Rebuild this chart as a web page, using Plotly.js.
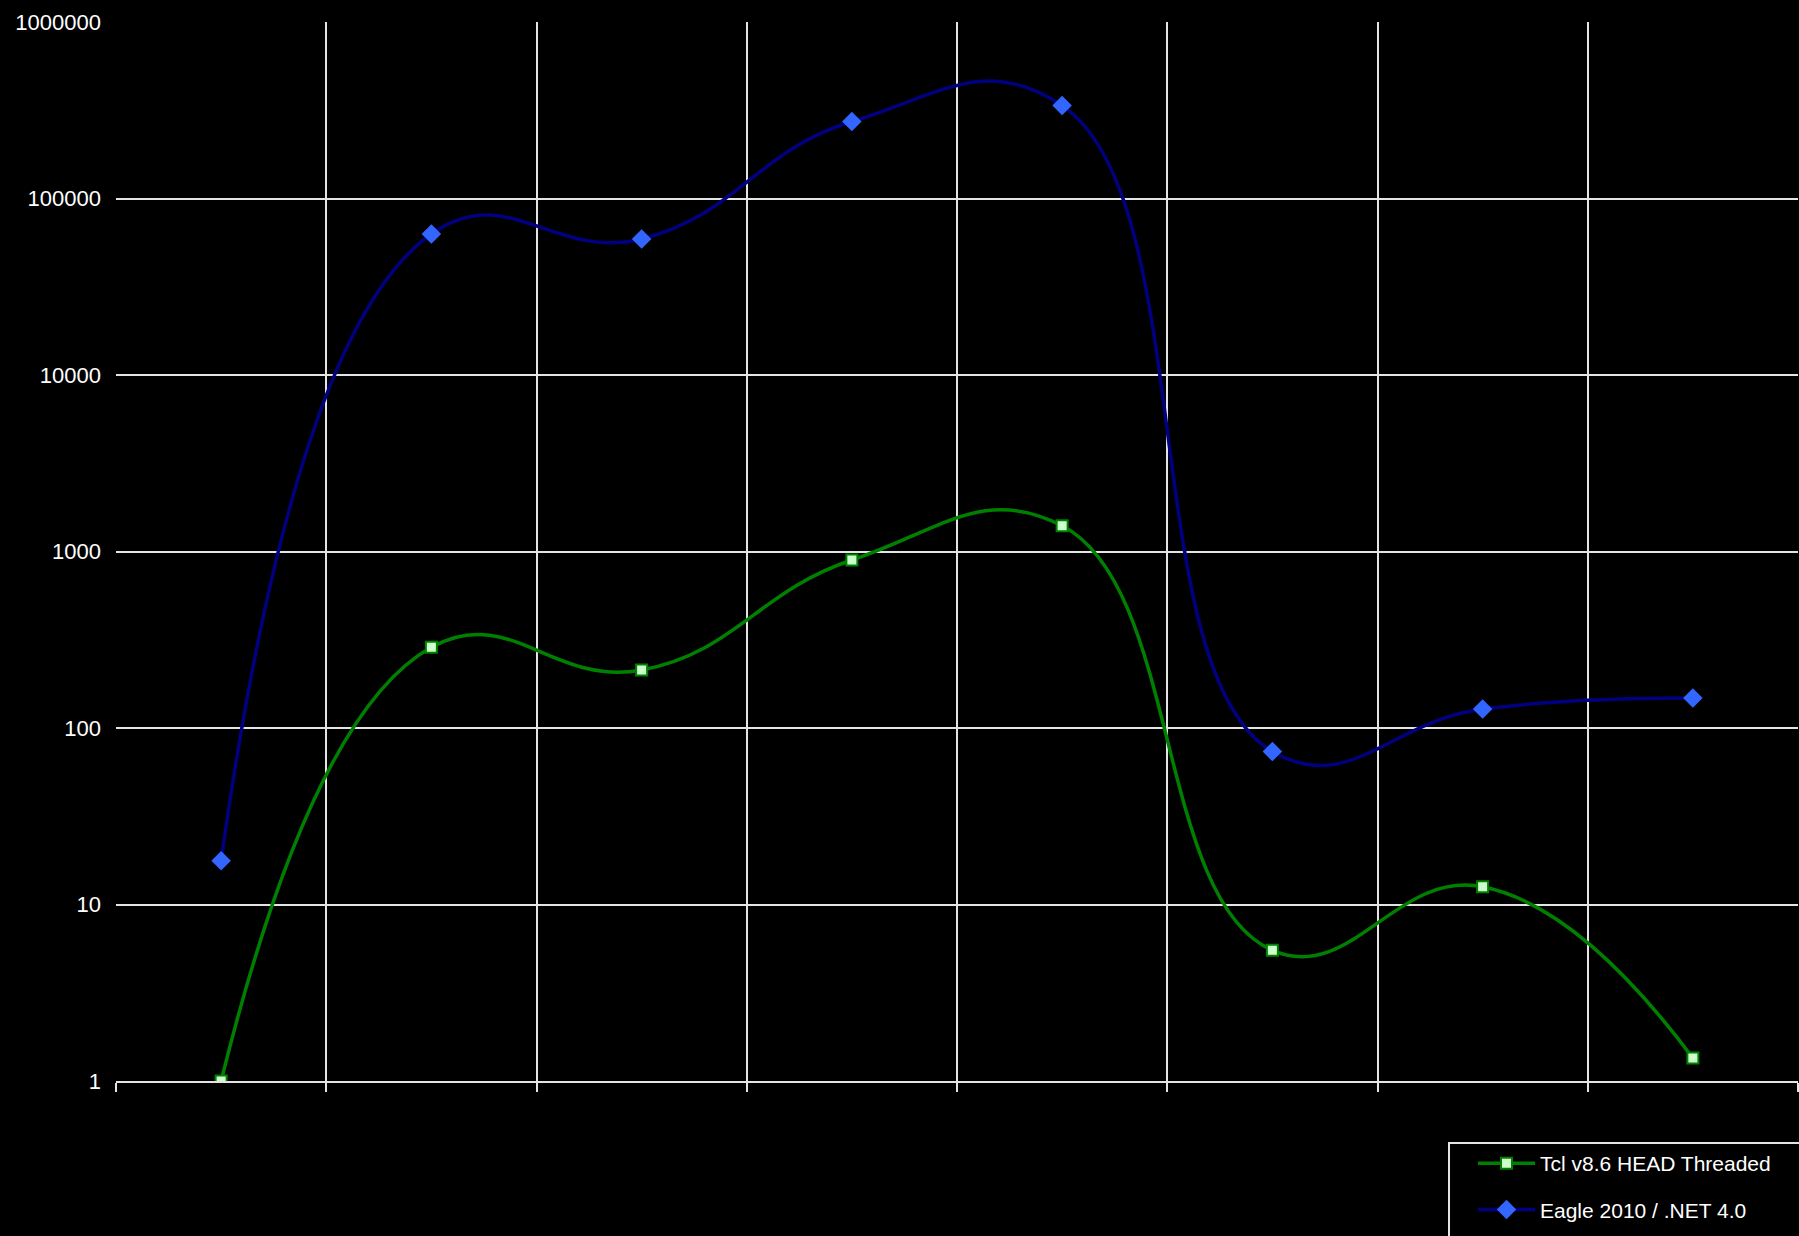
<!DOCTYPE html>
<html>
<head>
<meta charset="utf-8">
<script src="https://cdn.plot.ly/plotly-3.0.1.min.js"></script>
<style>html,body{margin:0;padding:0;background:#000;}</style>
</head>
<body>
<div id="chart" style="width:1799px;height:1236px;"></div>
<script>
// Test positions (8 unlabeled categories)
const testIndex = [1, 2, 3, 4, 5, 6, 7, 8];
const categoryBoundaries = [0.5, 1.5, 2.5, 3.5, 4.5, 5.5, 6.5, 7.5, 8.5];
const boundaryLabels = ['', '', '', '', '', '', '', '', ''];

// Series values (log scale)
const tclNames = 'Tcl v8.6 HEAD Threaded';
const tclValues = [1, 287, 213, 895, 1400, 5.5, 12.6, 1.35];
const eagleNames = 'Eagle 2010 / .NET 4.0';
const eagleValues = [17.7, 63000, 59000, 273000, 336000, 73.5, 128, 148];

// Y tick labels
const yTickValues = [1, 10, 100, 1000, 10000, 100000, 1000000];
const yTickLabels = ['1', '10', '100', '1000', '10000', '100000', '1000000'];

const FONT = 'Liberation Sans, Arial, sans-serif';
const GRID = '#e4e4e4';

const traces = [
  {
    x: testIndex, y: tclValues, name: tclNames, type: 'scatter', mode: 'lines+markers',
    legendgroup: 'tcl',
    line: {color: '#008000', width: 3.5, shape: 'spline', smoothing: 1.3},
    marker: {symbol: 'square', size: 11, color: '#ccffcc', line: {color: '#008000', width: 2}}
  },
  {
    x: testIndex, y: eagleValues, name: eagleNames, type: 'scatter', mode: 'lines+markers',
    legendgroup: 'eagle',
    line: {color: '#000080', width: 3.5, shape: 'spline', smoothing: 1.3},
    marker: {symbol: 'diamond', size: 15, color: '#3366ff', line: {width: 0}}
  }
];

const plotLeft = 116, plotRight = 1798, plotTop = 22, plotBottom = 1081;
const pw = plotRight - plotLeft, ph = plotBottom - plotTop;
function px2x(p) { return (p - plotLeft) / pw; }
function px2y(p) { return (plotBottom - p) / ph; }

const layout = {
  width: 1799, height: 1236,
  paper_bgcolor: '#000', plot_bgcolor: '#000',
  margin: {l: plotLeft, r: 1799 - plotRight, t: plotTop, b: 1236 - plotBottom, pad: 0},
  showlegend: true,
  hovermode: false,
  font: {family: FONT, color: '#ffffff', size: 21},
  xaxis: {
    range: [0.5, 8.5], tickmode: 'array', tickvals: categoryBoundaries, ticktext: boundaryLabels,
    showgrid: true, gridcolor: GRID, gridwidth: 2,
    ticks: 'outside', ticklen: 9, tickwidth: 2, tickcolor: GRID,
    showline: true, linecolor: GRID, linewidth: 2, zeroline: false, fixedrange: true
  },
  yaxis: {
    type: 'log', range: [0, 6], tickmode: 'array', tickvals: yTickValues, ticktext: yTickLabels,
    showgrid: true, gridcolor: GRID, gridwidth: 2, ticks: '', showline: false, zeroline: false,
    tickfont: {family: FONT, size: 22, color: '#ffffff'}, ticklabelstandoff: 14, fixedrange: true
  },
  legend: {
    x: px2x(1473), y: px2y(1143), xanchor: 'left', yanchor: 'top',
    bgcolor: 'rgba(0,0,0,0)', borderwidth: 0,
    font: {family: FONT, size: 21, color: '#ffffff'},
    traceorder: 'grouped', tracegroupgap: 16, itemwidth: 57
  },
  shapes: [{
    type: 'rect', xref: 'paper', yref: 'paper',
    x0: px2x(1449), x1: px2x(1830), y0: px2y(1143), y1: px2y(1270),
    line: {color: GRID, width: 2}, fillcolor: '#000', layer: 'below'
  }]
};

Plotly.newPlot('chart', traces, layout, {displayModeBar: false, staticPlot: true});
</script>
</body>
</html>
